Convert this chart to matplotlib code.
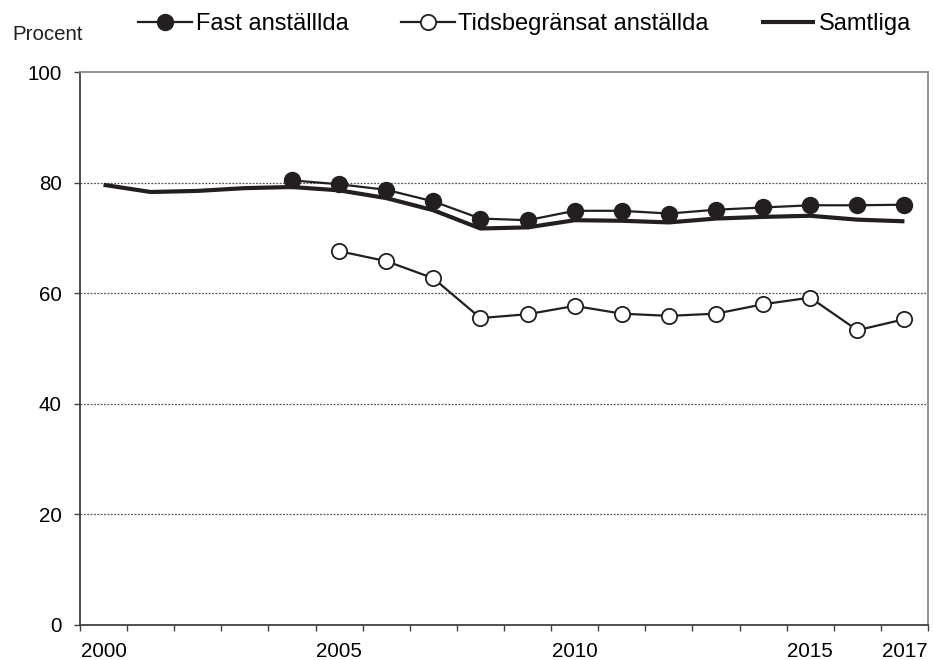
import matplotlib
matplotlib.use("Agg")
import matplotlib.pyplot as plt
import numpy as np

plt.rcParams['font.family'] = ['Liberation Sans', 'DejaVu Sans']

years = list(range(2000, 2018))
tick_years = [2000, 2005, 2010, 2015, 2017]

# Samtliga, 2000-2017
samtliga = [79.6, 78.3, 78.5, 79.0, 79.2, 78.6, 77.2, 75.0, 71.7, 71.9,
            73.2, 73.1, 72.8, 73.5, 73.8, 74.0, 73.3, 73.0]
# Fast anstallda, 2004-2017
fast_years = list(range(2004, 2018))
fast = [80.4, 79.7, 78.7, 76.6, 73.5, 73.2, 74.9, 74.9, 74.4, 75.1,
        75.5, 75.9, 75.9, 76.0]
# Tidsbegransat anstallda, 2005-2017
tids_years = list(range(2005, 2018))
tids = [67.6, 65.8, 62.7, 55.5, 56.2, 57.7, 56.3, 55.9, 56.3, 58.0,
        59.2, 53.3, 55.3]

ink = "#231f20"

fig = plt.figure(figsize=(9.33, 6.6), dpi=100)
ax = fig.add_axes([80 / 933, 35 / 660, 848 / 933, 553 / 660])

x_all = [y - 2000 for y in years]
ax.plot(x_all, samtliga, color=ink, lw=3.0, solid_capstyle="butt",
        label="Samtliga", zorder=3)
ax.plot([y - 2000 for y in fast_years], fast, color=ink, lw=1.6,
        marker="o", ms=11.5, mfc=ink, mec=ink, label="Fast anställlda", zorder=4)
ax.plot([y - 2000 for y in tids_years], tids, color=ink, lw=1.6,
        marker="o", ms=11, mfc="white", mec=ink, mew=1.3,
        label="Tidsbegränsat anställda", zorder=4)

ax.set_xlim(-0.5, 17.5)
ax.set_ylim(0, 100)
ax.set_yticks([0, 20, 40, 60, 80, 100])
ax.set_xticks([y - 2000 for y in tick_years])
ax.set_xticklabels([str(y) for y in tick_years])
ax.set_xticks(np.arange(-0.5, 17.6, 1), minor=True)
ax.tick_params(axis="x", which="major", length=0, labelsize=14.8, pad=12)
ax.tick_params(axis="x", which="minor", length=4, width=1, color="#404040",
               direction="out")
ax.tick_params(axis="y", length=4, width=1, color="#404040", labelsize=14.8,
               pad=9)

for v in [20, 40, 60, 80]:
    ax.axhline(v, color="#555555", lw=0.9, ls=(0, (1.5, 1.2)), zorder=1)

ax.spines["left"].set_color("#404040")
ax.spines["bottom"].set_color("#404040")
ax.spines["top"].set_color("#8a8a8a")
ax.spines["right"].set_color("#8a8a8a")
for s in ax.spines.values():
    s.set_linewidth(1.3)

fig.text(12 / 933, 1 - 35 / 660, "Procent", fontsize=14.8, va="center",
         ha="left", color=ink)

h, l = ax.get_legend_handles_labels()
order = [1, 2, 0]
fig.legend([h[i] for i in order], [l[i] for i in order], loc="center left",
           bbox_to_anchor=(138 / 933, 1 - 24 / 660), ncol=3, frameon=False,
           fontsize=17, handlelength=2.3, handletextpad=0.15,
           columnspacing=2.2, borderpad=0, borderaxespad=0)

fig.savefig("out.png", dpi=100)
